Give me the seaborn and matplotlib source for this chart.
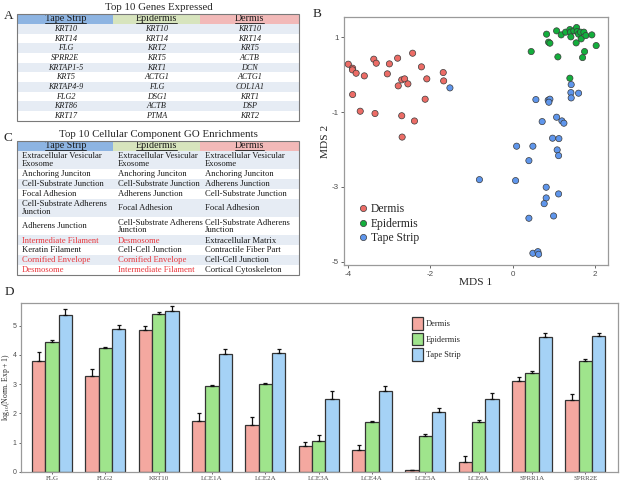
import matplotlib
matplotlib.use('Agg')
import numpy as np
import pandas as pd
import matplotlib.pyplot as plt
import seaborn as sns
from matplotlib.patches import Rectangle, Patch

# ---------------- data ----------------
tissues = ['Tape Strip', 'Epidermis', 'Dermis']

genes_tape = ['KRT10', 'KRT14', 'FLG', 'SPRR2E', 'KRTAP1-5', 'KRT5', 'KRTAP4-9', 'FLG2', 'KRT86', 'KRT17']
genes_epi = ['KRT10', 'KRT14', 'KRT2', 'KRT5', 'KRT1', 'ACTG1', 'FLG', 'DSG1', 'ACTB', 'PTMA']
genes_derm = ['KRT10', 'KRT14', 'KRT5', 'ACTB', 'DCN', 'ACTG1', 'COL1A1', 'KRT1', 'DSP', 'KRT2']

go_tape = ['Extracellular Vesicular\nExosome', 'Anchoring Junciton', 'Cell-Substrate Junction',
           'Focal Adhesion', 'Cell-Substrate Adherens\nJunction', 'Adherens Junction',
           'Intermediate Filament', 'Keratin Filament', 'Cornified Envelope', 'Desmosome']
go_epi = ['Extracellular Vesicular\nExosome', 'Anchoring Junciton', 'Cell-Substrate Junction',
          'Adherens Junction', 'Focal Adhesion', 'Cell-Substrate Adherens\nJunction',
          'Desmosome', 'Cell-Cell Junction', 'Cornified Envelope', 'Intermediate Filament']
go_derm = ['Extracellular Vesicular\nExosome', 'Anchoring Junciton', 'Adherens Junction',
           'Cell-Substrate Junction', 'Focal Adhesion', 'Cell-Substrate Adherens\nJunction',
           'Extracellular Matrix', 'Contractile Fiber Part', 'Cell-Cell Junction', 'Cortical Cytoskeleton']
go_highlight = ['Intermediate Filament', 'Desmosome', 'Cornified Envelope']

# MDS coordinates
dermis_x = [-4.00, -3.895, -3.90, -3.81, -3.61, -3.38, -3.32, -3.00, -2.80, -2.435, -3.05, -2.70, -2.63,
            -2.55, -2.785, -2.22, -2.09, -1.69, -1.68, -2.13, -3.895, -3.71, -3.35, -2.70, -2.39, -2.69]
dermis_y = [0.278, 0.171, 0.127, 0.037, -0.034, 0.412, 0.305, 0.287, 0.439, 0.572, 0.020, -0.141, -0.114,
            -0.248, -0.301, 0.207, -0.114, 0.055, -0.168, -0.658, -0.533, -0.979, -1.04, -1.10, -1.24, -1.67]
epi_x = [0.825, 1.069, 1.181, 1.288, 1.392, 1.409, 1.416, 1.489, 1.555, 1.570, 1.604, 1.652, 1.667,
         1.733, 1.781, 1.927, 0.874, 0.906, 0.451, 1.100, 1.545, 1.750, 2.032, 1.701, 1.392]
epi_y = [1.081, 1.169, 1.062, 1.135, 1.204, 1.135, 1.009, 1.169, 1.258, 1.151, 1.081, 1.135, 0.955,
         1.135, 1.044, 1.062, 0.867, 0.840, 0.616, 0.474, 0.848, 0.616, 0.776, 0.455, -0.096]
tape_x = [-1.527, 1.424, 1.417, 1.604, 1.424, 0.565, 0.864, 0.906, 0.881, 1.069, 0.718, 1.198, 1.247,
          0.971, 1.125, 0.096, 0.492, 1.083, 1.117, 0.395, -0.809, 0.071, 0.816, 1.117, 0.816, 0.767,
          0.996, 0.395, 0.492, 0.614, 0.631]
tape_y = [-0.355, -0.267, -0.481, -0.497, -0.623, -0.668, -0.684, -0.657, -0.738, -1.139, -1.256, -1.238,
          -1.299, -1.700, -1.711, -1.914, -1.914, -2.013, -2.166, -2.300, -2.808, -2.834, -3.011, -3.190,
          -3.297, -3.450, -3.779, -3.840, -4.776, -4.733, -4.803]

# Expression of genes
bar_genes = ['FLG', 'FLG2', 'KRT10', 'LCE1A', 'LCE2A', 'LCE3A', 'LCE4A', 'LCE5A', 'LCE6A', 'SPRR1A', 'SPRR2E']
dermis_mean = [3.79, 3.27, 4.86, 1.75, 1.61, 0.90, 0.74, 0.06, 0.35, 3.11, 2.47]
dermis_err = [0.29, 0.26, 0.13, 0.28, 0.27, 0.13, 0.18, 0.02, 0.19, 0.12, 0.20]
epi_mean = [4.45, 4.25, 5.41, 2.92, 3.01, 1.07, 1.72, 1.24, 1.72, 3.38, 3.78]
epi_err = [0.04, 0.02, 0.05, 0.05, 0.03, 0.21, 0.03, 0.05, 0.06, 0.07, 0.08]
tape_mean = [5.35, 4.89, 5.48, 4.02, 4.07, 2.49, 2.77, 2.06, 2.49, 4.62, 4.65]
tape_err = [0.21, 0.14, 0.19, 0.19, 0.13, 0.27, 0.17, 0.14, 0.22, 0.11, 0.11]

# ---------------- style ----------------
sns.set_theme(style='white')
plt.rcParams['font.family'] = ['Liberation Serif', 'DejaVu Serif']
plt.rcParams['mathtext.fontset'] = 'custom'
plt.rcParams['mathtext.rm'] = 'Liberation Serif'
plt.rcParams['axes.unicode_minus'] = False

SANS = ['Liberation Sans', 'DejaVu Sans']
header_colors = ['#8DB4E2', '#D7E4BD', '#F2B9B8']
shade = '#E6ECF4'
red_txt = '#E8363C'

fig = plt.figure(figsize=(6.22, 4.84), dpi=100)
ov = fig.add_axes([0, 0, 1, 1])
ov.set_xlim(0, 622)
ov.set_ylim(484, 0)
ov.axis('off')

edges = [17.3, 113.3, 200.0, 299.3]
header_texts = []


def draw_table(cols, top, header_h, row_hs, fs, italic, left_align):
    left, right = edges[0], edges[-1]
    for j, name in enumerate(tissues):
        ov.add_patch(Rectangle((edges[j], top), edges[j + 1] - edges[j], header_h,
                               fc=header_colors[j], ec='none', zorder=1))
        t = ov.text((edges[j] + edges[j + 1]) / 2, top + header_h - 2.6, name, ha='center',
                    va='baseline', fontsize=7.2, color='#1a1a1a', zorder=3)
        header_texts.append((t, top + header_h - 1.2))
    y = top + header_h
    for i, h in enumerate(row_hs):
        if i % 2 == 0:
            ov.add_patch(Rectangle((left, y), right - left, h, fc=shade, ec='none', zorder=1))
        for j, col in enumerate(cols):
            txt = col[i]
            if left_align:
                x, ha = edges[j] + 4.6, 'left'
            else:
                x, ha = (edges[j] + edges[j + 1]) / 2, 'center'
            color = red_txt if txt in go_highlight else '#1a1a1a'
            ov.text(x, y + h / 2 + 0.3, txt, ha=ha, va='center', fontsize=fs,
                    style='italic' if italic else 'normal', color=color,
                    linespacing=0.95, zorder=3)
        y += h
    ov.add_patch(Rectangle((left, top), right - left, y - top, fc='none', ec='#7a7a7a',
                           lw=0.8, zorder=4))


# Panel A table
ov.text(158.7, 7.0, 'Top 10 Genes Expressed', ha='center', va='center', fontsize=7.8)
draw_table([genes_tape, genes_epi, genes_derm], 14.0, 10.0, [9.67] * 10, 5.9, True, False)

# Panel C table
ov.text(158.7, 134.7, 'Top 10 Cellular Component GO Enrichments', ha='center', va='center', fontsize=7.8)
row_h = [18.4 if max(c[i].count('\n') for c in (go_tape, go_epi, go_derm)) else 9.8
         for i in range(len(go_tape))]
draw_table([go_tape, go_epi, go_derm], 140.7, 10.0, row_h, 6.2, False, True)

# panel letters
for lab, (x, y) in {'A': (9, 16), 'B': (317, 14), 'C': (8, 138), 'D': (9, 292)}.items():
    ov.text(x, y, lab, ha='center', va='center', fontsize=9.5)

# ---------------- Panel B: MDS scatter ----------------
dfB = pd.DataFrame({
    'MDS 1': dermis_x + epi_x + tape_x,
    'MDS 2': dermis_y + epi_y + tape_y,
    'tissue': ['Dermis'] * len(dermis_x) + ['Epidermis'] * len(epi_x) + ['Tape Strip'] * len(tape_x),
})
axB = fig.add_axes([344 / 622, 1 - 265 / 484, 264 / 622, 248 / 484])
sns.scatterplot(data=dfB, x='MDS 1', y='MDS 2', hue='tissue',
                hue_order=['Dermis', 'Epidermis', 'Tape Strip'],
                palette=['#EC6C66', '#13AE3C', '#5F96EC'], s=20, edgecolor='#3a3a3a',
                linewidth=0.5, ax=axB, zorder=3)
axB.set_xlim(-4.105, 2.32)
axB.set_ylim(-5.09, 1.54)
axB.set_xticks([-4, -2, 0, 2])
axB.set_yticks([1, -1, -3, -5])
axB.set_xlabel('MDS 1', fontsize=8.2, labelpad=0.5)
axB.set_ylabel('MDS 2', fontsize=8.2, labelpad=1)
for lbl in axB.get_xticklabels() + axB.get_yticklabels():
    lbl.set_family(SANS)
axB.tick_params(axis='both', labelsize=5.8, colors='#4d4d4d', length=2.5, width=0.6, pad=1.5,
                bottom=True, left=True, direction='out')
for sp in axB.spines.values():
    sp.set_color('#9a9a9a')
    sp.set_linewidth(0.9)
lgB = axB.legend(loc='lower left', bbox_to_anchor=(0.05, 0.085), frameon=False, fontsize=8.4,
                 handletextpad=0.2, labelspacing=0.2, borderaxespad=0, borderpad=0,
                 handlelength=1.0)

# ---------------- Panel D: bars ----------------
order = ['Dermis', 'Epidermis', 'Tape Strip']
errs = {'Dermis': dermis_err, 'Epidermis': epi_err, 'Tape Strip': tape_err}
dfD = pd.DataFrame({
    'gene': bar_genes * 3,
    'value': dermis_mean + epi_mean + tape_mean,
    'tissue': sum([[t] * len(bar_genes) for t in order], []),
})
bar_pal = ['#F4A8A0', '#9FE48C', '#A5D2F6']
axD = fig.add_axes([20.7 / 622, 1 - 472 / 484, 597.3 / 622, 169 / 484])
sns.barplot(data=dfD, x='gene', y='value', hue='tissue', hue_order=order, order=bar_genes,
            palette=bar_pal, errorbar=None, width=0.75, gap=0, edgecolor='#333333',
            linewidth=0.9, ax=axD, legend=False, saturation=1)
for cont, t in zip(axD.containers, order):
    xs = [p.get_x() + p.get_width() / 2 for p in cont.patches]
    ys = [p.get_height() for p in cont.patches]
    axD.errorbar(xs, ys, yerr=[np.zeros(len(xs)), errs[t]], fmt='none', ecolor='#111111',
                 elinewidth=0.9, capsize=1.6, capthick=0.9, zorder=1)
axD.set_xlim(-0.59, 10.61)
axD.set_ylim(0, 5.77)
axD.set_yticks([0, 1, 2, 3, 4, 5])
axD.set_xlabel('')
axD.set_ylabel('log$_{10}$(Norm. Exp + 1)', fontsize=5.5, va='center')
axD.yaxis.set_label_coords(-0.0245, 0.5)
for lbl in axD.get_yticklabels():
    lbl.set_family(SANS)
axD.tick_params(axis='y', labelsize=5, colors='#4d4d4d', length=1.8, width=0.6, pad=1.2, left=True)
axD.tick_params(axis='x', labelsize=5, colors='#4d4d4d', length=1.5, width=0.6, pad=1.5, bottom=True)
for sp in axD.spines.values():
    sp.set_color('#9a9a9a')
    sp.set_linewidth(0.9)
handles = [Patch(fc=c, ec='#333333', lw=0.9) for c in bar_pal]
axD.legend(handles, order, loc='upper left', bbox_to_anchor=(0.655, 0.915), frameon=False,
           fontsize=6, handlelength=1.3, handleheight=2.0, handletextpad=0.35, labelspacing=0.28,
           borderaxespad=0, borderpad=0)

# underline the header labels
fig.canvas.draw()
rend = fig.canvas.get_renderer()
inv = ov.transData.inverted()
for t, yline in header_texts:
    bb = t.get_window_extent(rend)
    (x0, _), (x1, _) = inv.transform([[bb.x0, bb.y0], [bb.x1, bb.y1]])
    ov.plot([x0, x1], [yline, yline], color='#1a1a1a', lw=0.6, zorder=5)

fig.savefig('out.png', dpi=100)
